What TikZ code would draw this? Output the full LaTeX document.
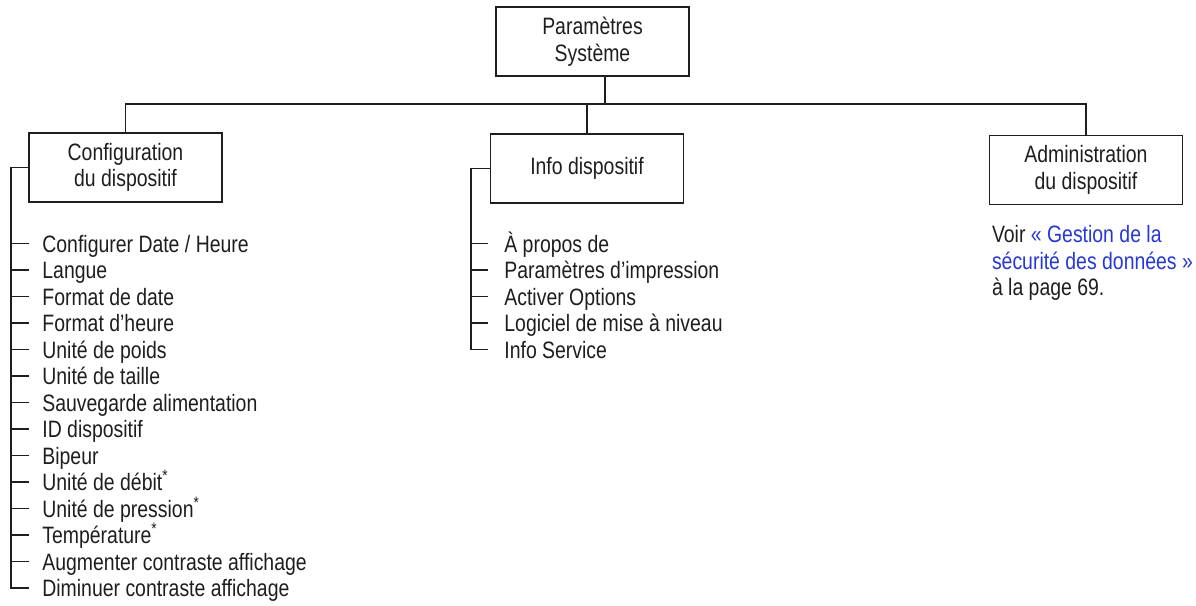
\documentclass[tikz,border=0pt]{standalone}
\usepackage{fontspec}
\setmainfont[FakeStretch=0.82]{Liberation Sans}
\usetikzlibrary{positioning}
\definecolor{ink}{RGB}{30,30,30}
\definecolor{linkblue}{RGB}{35,55,225}

\begin{document}
\begin{tikzpicture}[
  x=0.5pt, y=-0.5pt,
  every node/.style={font=\fontsize{11.85pt}{13.25pt}\selectfont, text=ink},
  menu/.style={draw=ink, line width=0.9pt, align=center, minimum width=96.5pt, minimum height=34.5pt, inner sep=0pt},
  item/.style={anchor=base west, inner ysep=0pt, text height=8.5pt, text depth=0pt},
  wire/.style={draw=ink, line width=0.9pt},
]
  \useasboundingbox (0,0) rectangle (1196,606);

  \node[menu] (root) at (592.5,41.5) {Paramètres\\Système};
  \node[menu] (config) at (125.5,167.5) {Configuration\\du dispositif};
  \node[menu] (info) at (587,168.5) {Info dispositif};
  \node[menu] (admin) at (1086,170) {Administration\\du dispositif};

  % bus between the menus
  \coordinate (bus) at (605,104);
  \draw[wire] (root.south -| bus) -- (bus);
  \draw[wire] (config.north) |- (bus) -| (admin.north);
  \draw[wire] (info.north) -- (info.north |- bus);

  % device configuration
  \coordinate (cfgtrunk) at (11,0);
  \foreach \txt [count=\i] in {{Configurer Date / Heure}, Langue, Format de date,
      Format d’heure, Unité de poids, Unité de taille, Sauvegarde alimentation,
      ID dispositif, Bipeur, {Unité de débit\textsuperscript{*}},
      {Unité de pression\textsuperscript{*}}, {Température\textsuperscript{*}},
      Augmenter contraste affichage, Diminuer contraste affichage}
    \node[item, inner xsep=6.5pt] (c\i) at (29,{252+26.5*(\i-1)}) {\txt};
  \draw[wire] (config.west) -| (cfgtrunk |- c14.west) -- (c14.west);
  \foreach \i in {1,...,13}
    \draw[wire] (cfgtrunk |- c\i.west) -- (c\i.west);

  % device info
  \coordinate (infotrunk) at (471,0);
  \foreach \txt [count=\i] in {À propos de, Paramètres d’impression, Activer Options,
      Logiciel de mise à niveau, Info Service}
    \node[item, inner xsep=8pt] (i\i) at (488,{252+26.5*(\i-1)}) {\txt};
  \draw[wire] (info.west) -| (infotrunk |- i5.west) -- (i5.west);
  \foreach \i in {1,...,4}
    \draw[wire] (infotrunk |- i\i.west) -- (i\i.west);

  % device administration
  \node[align=left, inner sep=0pt, below=10pt of admin.south west, anchor=north west, xshift=1.5pt] (note)
    {Voir \textcolor{linkblue}{« Gestion de la}\\\textcolor{linkblue}{sécurité des données »}\\à la page 69.};
\end{tikzpicture}
\end{document}
